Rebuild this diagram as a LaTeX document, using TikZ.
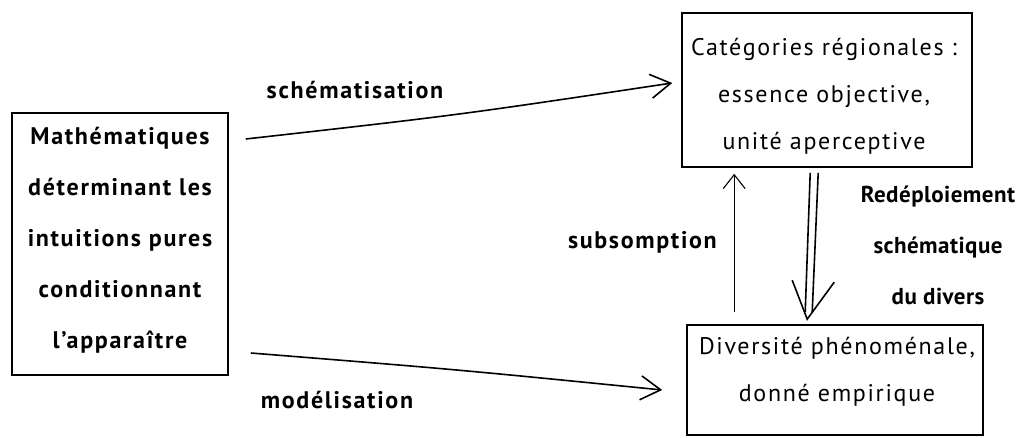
\documentclass[tikz,border=0pt]{standalone}
\usepackage{fontspec}
\setmainfont{PT Sans}[LetterSpace=7]
\usetikzlibrary{arrows.meta,calc}
\tikzset{
  boxnode/.style={draw,line width=1.6pt,rectangle,inner sep=0pt},
  txt/.style={align=center,inner sep=0pt,font=\fontsize{24}{47}\selectfont},
  btxt/.style={txt,font=\fontsize{24}{51}\selectfont\bfseries},
  lbl/.style={inner sep=0pt,font=\fontsize{24}{51}\selectfont\bfseries},
  arr/.style={line width=1.6pt,-{Straight Barb[length=20pt,width=24pt,line width=1.6pt]}},
  thinarr/.style={line width=1.1pt,-{Straight Barb[length=14pt,width=22pt,line width=1.1pt]}},
  dbl/.style={line width=1.6pt}
}
\begin{document}
\begin{tikzpicture}[x=1pt,y=-1pt]
\useasboundingbox (0,0) rectangle (1024,438);
% boxes
\node[boxnode,minimum width=216pt,minimum height=262pt] (math) at (120,244) {};
\node[boxnode,minimum width=290pt,minimum height=154pt] (cat) at (827,90) {};
\node[boxnode,minimum width=296pt,minimum height=110pt] (div) at (835,380) {};
% box texts
\node[btxt] (mathT) at (120,240) {Mathématiques\\déterminant les\\intuitions pures\\conditionnant\\l'apparaître};
\node[txt] (catT) at (824,96.5) {Catégories régionales :\\essence objective,\\unité aperceptive};
\node[txt] (divT) at (837,372) {Diversité phénoménale,\\donné empirique};
% connector ends
\coordinate (s1) at ($(math.east)+(17,-105)$);
\coordinate (s2) at ($(cat.west)+(-9,-7)$);
\coordinate (m1) at ($(math.east)+(22,109)$);
\coordinate (m2) at ($(div.west)+(-24,10)$);
\coordinate (u1) at ($(div.north west)+(48,-12)$);
\coordinate (u2) at ($(cat.south west)+(53,6)$);
% arrows
\draw[arr] (s1) .. controls ($(s1)!0.5!(s2)+(0,4)$) .. (s2);
\draw[arr] (m1) .. controls ($(m1)!0.5!(m2)+(0,-2)$) .. (m2);
\draw[thinarr] (u1) -- (u2);
% double arrow
\coordinate (d1) at ($(cat.south west)+(129,5)$);
\coordinate (d2) at ($(cat.south west)+(137,5)$);
\coordinate (d3) at ($(div.north west)+(119,-12)$);
\coordinate (d4) at ($(div.north west)+(126,-12)$);
\coordinate (dl) at ($(div.north west)+(106,-44)$);
\coordinate (dt) at ($(div.north west)+(121,-5)$);
\coordinate (dr) at ($(div.north west)+(148,-42)$);
\draw[dbl] (d1) -- (d3);
\draw[dbl] (d2) -- (d4);
\draw[dbl,line join=miter] (dl) -- (dt) -- (dr);
% labels
\node[lbl] (lsch) at (355,90) {schématisation};
\node[lbl] (lmod) at (337,400) {modélisation};
\node[lbl,anchor=east] (lsub) at (717,242) {subsomption};
\node[btxt,font=\fontsize{23}{51}\selectfont\bfseries\addfontfeature{LetterSpace=2}] (lred) at (938,245) {Redéploiement\\schématique\\du divers};
\end{tikzpicture}
\end{document}
